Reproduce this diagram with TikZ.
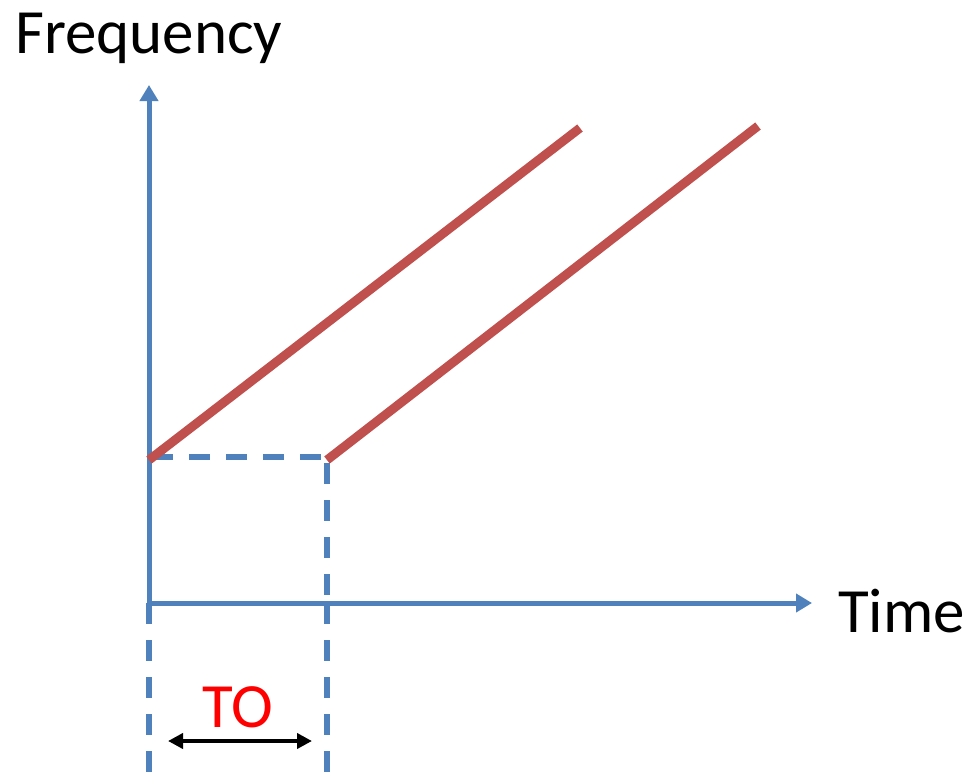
\documentclass[tikz,border=0pt]{standalone}
\usepackage{fontspec}
\setmainfont{Carlito}
\usetikzlibrary{arrows.meta}
\definecolor{axisblue}{RGB}{79,129,189}
\definecolor{linered}{RGB}{192,80,77}
\definecolor{tored}{RGB}{255,0,0}
\tikzset{
  axisline/.style={draw=axisblue, line width=5pt, -{Triangle[length=16pt,width=18pt]}},
  guide/.style={draw=axisblue, line width=6pt, dash pattern=on 21pt off 16pt},
  ramp/.style={draw=linered, line width=9pt},
  lbl/.style={font=\fontsize{63}{63}\selectfont, inner sep=0pt},
  span/.style={draw=black, line width=4pt, {Triangle[length=15pt,width=15pt]}-{Triangle[length=15pt,width=15pt]}}
}
\begin{document}
\begin{tikzpicture}[x=1pt,y=-1pt]
\useasboundingbox (0,0) rectangle (969,772);
\fill[white] (0,0) rectangle (969,772);
% coordinates
\coordinate (O) at (149,603);
\coordinate (Ytip) at (149,85);
\coordinate (Xtip) at (812,603);
\coordinate (S1) at (149,460);
\coordinate (E1) at (580,128);
\coordinate (S2) at (327,460);
\coordinate (E2) at (758,126);
\coordinate (H0) at (152,457);
\coordinate (H1) at (327,457);
\coordinate (V0) at (327,463);
\coordinate (V1) at (327,600);
\coordinate (L0) at (149,603);
\coordinate (L1) at (149,772);
\coordinate (R0) at (327,603);
\coordinate (R1) at (327,772);
\coordinate (A0) at (168,741);
\coordinate (A1) at (312,741);
% dashed guides
\draw[guide] (H0) -- (H1);
\draw[guide] (V0) -- (V1);
\draw[guide] (L0) -- (L1);
\draw[guide] (R0) -- (R1);
% axes
\draw[axisline] (O) -- (Ytip);
\draw[axisline] (O) -- (Xtip);
% ramps
\draw[ramp] (S1) -- (E1);
\draw[ramp] (S2) -- (E2);
% labels
\node[lbl, anchor=base west] (freq) at (15,53) {Frequency};
\node[lbl, anchor=base west] (time) at (838,632) {Time};
\node[lbl, anchor=base, text=tored] (to) at (238,727) {TO};
% span arrow
\draw[span] (A0) -- (A1);
\end{tikzpicture}
\end{document}
